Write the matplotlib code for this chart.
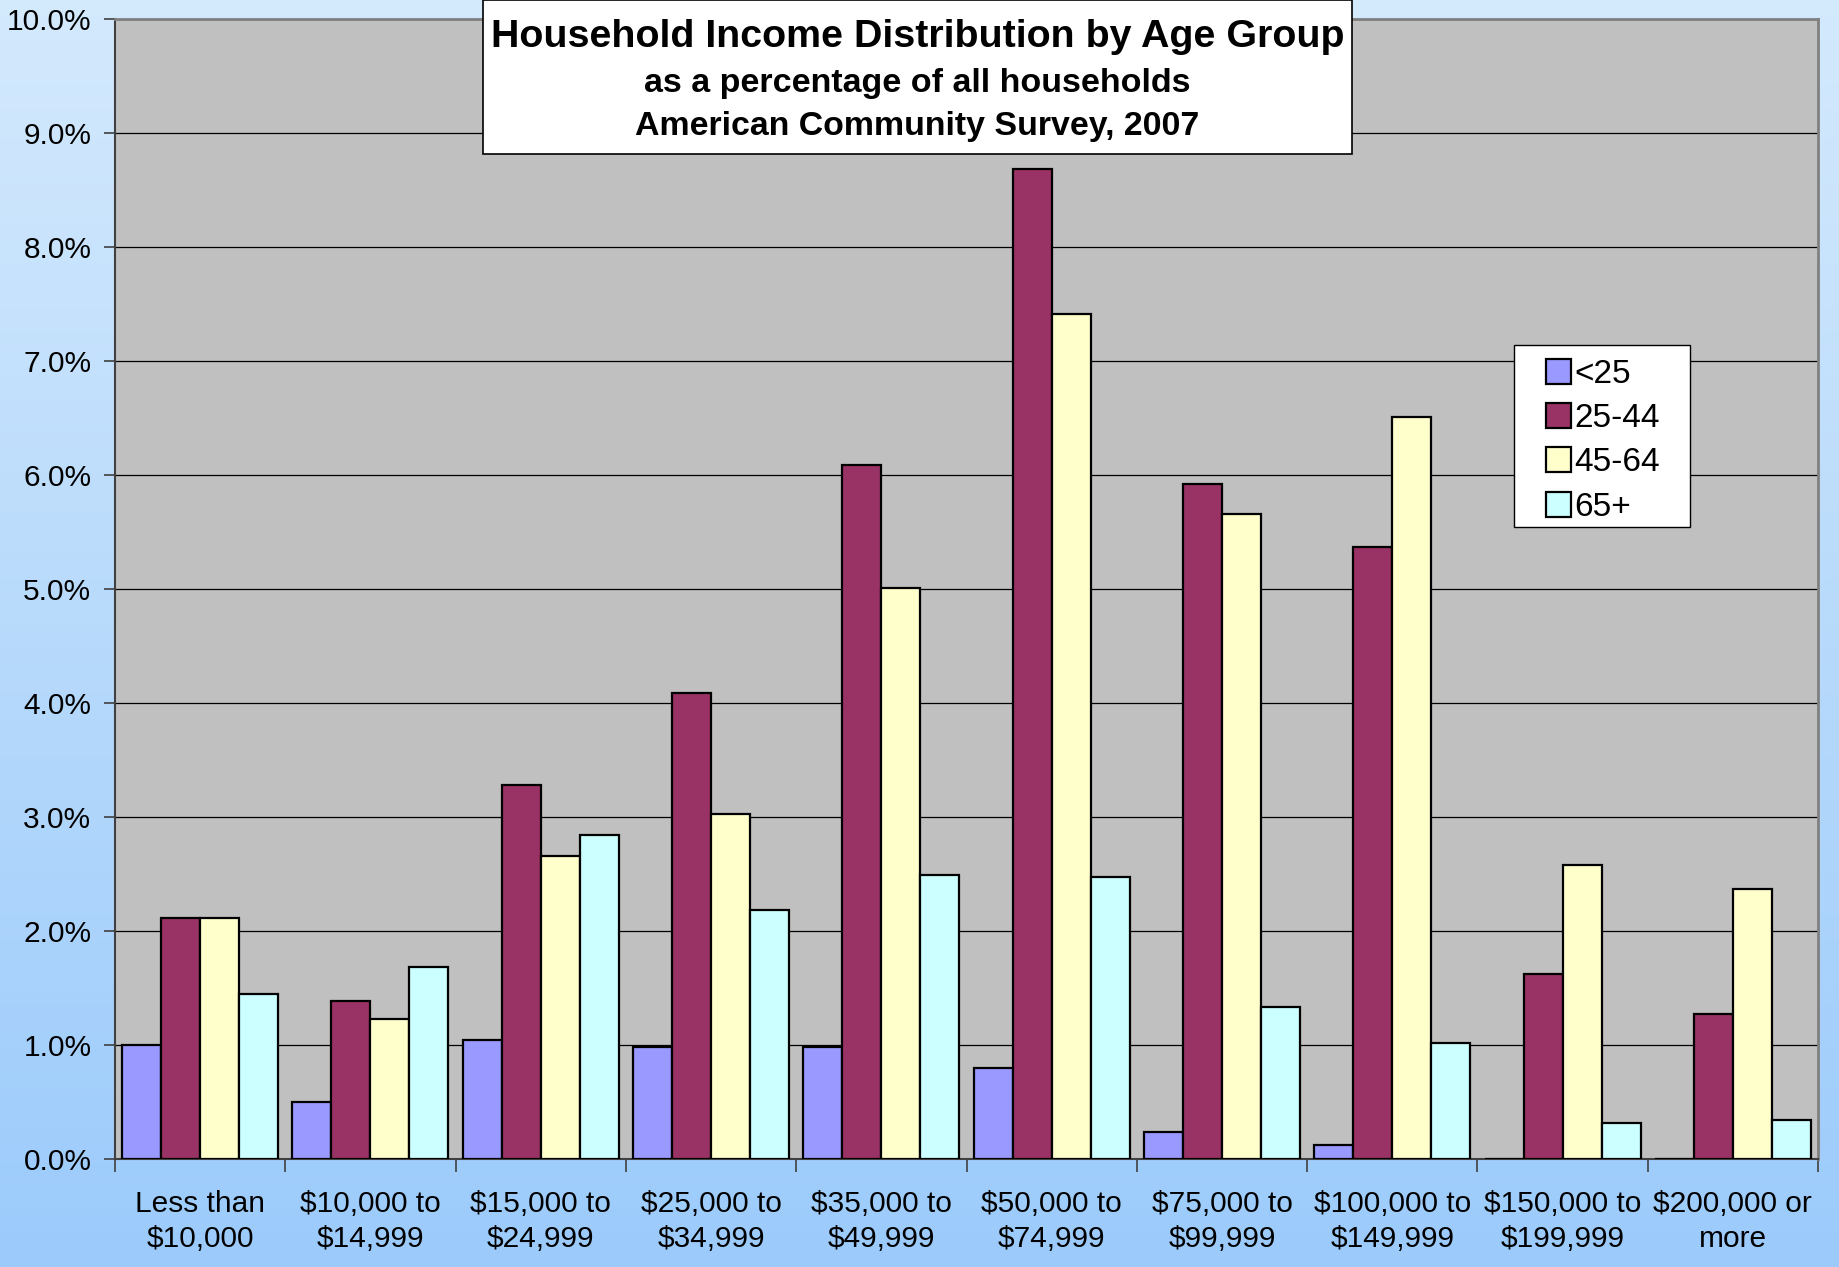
import numpy as np
import matplotlib
matplotlib.use("Agg")
import matplotlib.pyplot as plt
from matplotlib.patches import Rectangle
from matplotlib.ticker import FuncFormatter, FixedLocator

plt.rcParams['font.family'] = ['Liberation Sans', 'DejaVu Sans']

categories = ["Less than\n$10,000", "$10,000 to\n$14,999", "$15,000 to\n$24,999",
              "$25,000 to\n$34,999", "$35,000 to\n$49,999", "$50,000 to\n$74,999",
              "$75,000 to\n$99,999", "$100,000 to\n$149,999", "$150,000 to\n$199,999",
              "$200,000 or\nmore"]
series_names = ["<25", "25-44", "45-64", "65+"]
under25 = [1.00, 0.50, 1.04, 0.98, 0.98, 0.80, 0.24, 0.12, 0.00, 0.00]
age25_44 = [2.11, 1.39, 3.28, 4.09, 6.09, 8.68, 5.92, 5.37, 1.62, 1.27]
age45_64 = [2.11, 1.23, 2.66, 3.03, 5.01, 7.41, 5.66, 6.51, 2.58, 2.37]
age65plus = [1.45, 1.68, 2.84, 2.18, 2.49, 2.47, 1.33, 1.02, 0.32, 0.34]
colors = ["#9999FF", "#993366", "#FFFFCC", "#CCFFFF"]
title_lines = ["Household Income Distribution by Age Group",
               "as a percentage of all households",
               "American Community Survey, 2007"]

W, H = 1839, 1267
fig = plt.figure(figsize=(W / 100, H / 100), dpi=100)

# gradient background
bg = fig.add_axes([0, 0, 1, 1], zorder=-10)
top = np.array([0.83, 0.915, 0.99])
bot = np.array([0.61, 0.795, 0.985])
t = np.linspace(0, 1, 256)[:, None]
grad = top[None, :] * (1 - t) + bot[None, :] * t
bg.imshow(grad[:, None, :], aspect='auto', extent=[0, 1, 0, 1])
bg.set_axis_off()

L, R, T, B = 115, 1818, 19, 1159
ax = fig.add_axes([L / W, 1 - B / H, (R - L) / W, (B - T) / H])
ax.set_facecolor("#C0C0C0")

series = [under25, age25_44, age45_64, age65plus]
x = np.arange(len(categories))
bw = 0.229
for i, (vals, c, name) in enumerate(zip(series, colors, series_names)):
    ax.bar(x + (i - 1.5) * bw, vals, width=bw, color=c, edgecolor="black",
           linewidth=1.6, label=name, zorder=3)

ax.set_xlim(-0.5, len(categories) - 0.5)
ax.set_ylim(0, 10)
ax.yaxis.set_major_locator(FixedLocator(np.arange(0, 10.5, 1)))
ax.yaxis.set_major_formatter(FuncFormatter(lambda v, p: f"{v:.1f}%"))
ax.grid(axis='y', color='black', linewidth=0.9, zorder=1)
ax.set_axisbelow(True)

ax.set_xticks(x)
ax.set_xticklabels(categories, fontsize=21.5, linespacing=1.32)
ax.tick_params(axis='x', which='major', length=0, pad=22)
ax.set_xticks(np.arange(-0.5, len(categories), 1), minor=True)
ax.tick_params(axis='x', which='minor', length=9, width=1.2, color='#404040', direction='out')
ax.tick_params(axis='y', which='major', labelsize=21.5, length=8, width=1.2,
               color='#404040', direction='out', pad=9)

for s in ['left', 'bottom']:
    ax.spines[s].set_color('#404040')
    ax.spines[s].set_linewidth(1.5)
for s in ['top', 'right']:
    ax.spines[s].set_color('#808080')
    ax.spines[s].set_linewidth(2)

# legend (drawn as a framed box with swatches)
lg_l, lg_r, lg_t, lg_b = 1514, 1690, 345, 527
fig.add_artist(Rectangle((lg_l / W, 1 - lg_b / H), (lg_r - lg_l) / W, (lg_b - lg_t) / H,
                         transform=fig.transFigure, facecolor='white', edgecolor='black',
                         linewidth=1.0, zorder=15))
row_y = [371, 415, 459, 504]
sw = 25
for name, c, ry in zip(series_names, colors, row_y):
    fig.add_artist(Rectangle((1546 / W, 1 - (ry + sw / 2) / H), sw / W, sw / H,
                             transform=fig.transFigure, facecolor=c, edgecolor='black',
                             linewidth=1.6, zorder=16))
    fig.text(1574 / W, 1 - ry / H, name, ha='left', va='center_baseline',
             fontsize=24, zorder=16)

# title box
tb_l, tb_r, tb_t, tb_b = 483, 1352, 0, 154
rect = Rectangle((tb_l / W, 1 - tb_b / H), (tb_r - tb_l) / W, (tb_b - tb_t) / H,
                 transform=fig.transFigure, facecolor='white', edgecolor='black',
                 linewidth=1.2, zorder=15)
fig.add_artist(rect)
cx = (tb_l + tb_r) / 2 / W
fig.text(cx, 1 - 47 / H, title_lines[0], ha='center', va='baseline', fontsize=28.4,
         fontweight='bold', zorder=16)
fig.text(cx, 1 - 92 / H, title_lines[1], ha='center', va='baseline', fontsize=24.5,
         fontweight='bold', zorder=16)
fig.text(cx, 1 - 135 / H, title_lines[2], ha='center', va='baseline', fontsize=24.4,
         fontweight='bold', zorder=16)

fig.savefig("out.png", dpi=100)
